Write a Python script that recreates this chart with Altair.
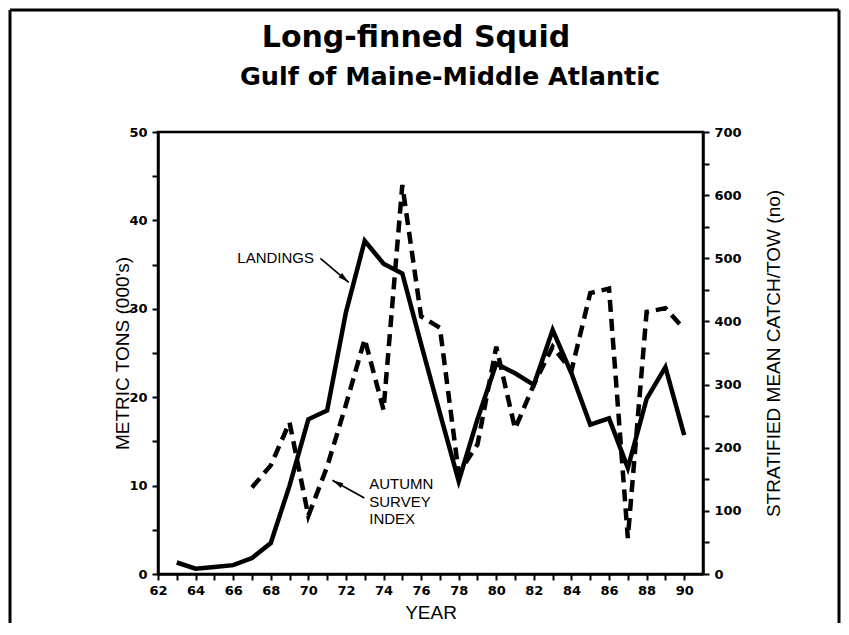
import math
import altair as alt
import pandas as pd

# ---------------- data ----------------
land_years = list(range(63, 91))
landings = [1.3, 0.6, 0.8, 1.0, 1.8, 3.5, 10.0, 17.5, 18.5, 29.6, 37.7, 35.1, 34.0,
            26.0, 18.2, 10.5, 17.5, 23.8, 22.7, 21.4, 27.6, 22.7, 16.9, 17.6, 12.0,
            19.8, 23.4, 15.7]

survey_years = list(range(67, 91))
survey = [137, 172, 240, 92, 170, 268, 372, 260, 616, 408, 390, 160, 205, 360,
          230, 300, 360, 322, 445, 452, 57, 415, 421, 388]

title_text = "Long-finned Squid"
subtitle_text = "Gulf of Maine-Middle Atlantic"
x_title = "YEAR"
left_title = "METRIC TONS (000's)"
right_title = "STRATIFIED MEAN CATCH/TOW (no)"

x_ticks = list(range(62, 91))
left_ticks = list(range(0, 51, 5))
right_ticks = list(range(0, 701, 50))

# annotations (in data units: year, left-axis value)
land_label = ["LANDINGS"]
land_label_x = [70.3]
land_label_y = [35.7]
land_arrow_x = [70.64, 72.15]
land_arrow_y = [35.7, 33.0]

surv_label = ["AUTUMN", "SURVEY", "INDEX"]
surv_label_x = [73.24, 73.24, 73.24]
surv_label_y = [10.2, 8.2, 6.2]
surv_arrow_x = [72.98, 71.28]
surv_arrow_y = [8.6, 10.6]

# ---------------- layout ----------------
W, H = 545, 442
X_DOMAIN = [62, 91]
YL_DOMAIN = [0, 50]
YR_DOMAIN = [0, 700]
PAD = {"left": 150, "top": 124, "right": 138, "bottom": 49}

px_year = W / (X_DOMAIN[1] - X_DOMAIN[0])
px_unit = H / (YL_DOMAIN[1] - YL_DOMAIN[0])


def head_angle(xs, ys):
    dx = (xs[1] - xs[0]) * px_year
    dy = -(ys[1] - ys[0]) * px_unit
    return math.degrees(math.atan2(dx, -dy)) % 360


xscale = alt.Scale(domain=X_DOMAIN, nice=False, zero=False)
ylscale = alt.Scale(domain=YL_DOMAIN, nice=False, zero=False)
yrscale = alt.Scale(domain=YR_DOMAIN, nice=False, zero=False)

x_axis = alt.Axis(values=x_ticks, format="d", labelFlush=False, labelOverlap=False,
                  labelExpr="datum.value % 2 == 0 ? datum.label : ''",
                  labelPadding=4, title=x_title, titleX=W / 2, titleY=44,
                  titleBaseline="alphabetic", titleAlign="center")
yl_axis = alt.Axis(values=left_ticks, format="d", labelFlush=False, labelOverlap=False,
                   labelExpr="datum.value % 10 == 0 ? datum.label : ''",
                   labelPadding=5, title=left_title, titleX=-36, titleY=H / 2,
                   titleAngle=270, titleAlign="center", titleBaseline="middle")
yr_axis = alt.Axis(orient="right", values=right_ticks, format="d", labelFlush=False,
                   labelOverlap=False,
                   labelExpr="datum.value % 100 == 0 ? datum.label : ''",
                   labelPadding=5, title=right_title, titleX=70, titleY=H / 2,
                   titleAngle=270, titleAlign="center", titleBaseline="middle")

X = alt.X("year:Q", scale=xscale, axis=x_axis)
YL = alt.Y("value:Q", scale=ylscale, axis=yl_axis)

land_df = pd.DataFrame({"year": land_years, "value": landings})
surv_df = pd.DataFrame({"year": survey_years, "index": survey})

landings_line = alt.Chart(land_df).mark_line(color="black", strokeWidth=4.5).encode(x=X, y=YL)

land_text = alt.Chart(pd.DataFrame({"year": land_label_x, "value": land_label_y,
                                    "label": land_label})).mark_text(
    font="Liberation Sans", fontSize=15, align="right", baseline="middle", color="black"
).encode(x=X, y=YL, text="label:N")

surv_text = alt.Chart(pd.DataFrame({"year": surv_label_x, "value": surv_label_y,
                                    "label": surv_label})).mark_text(
    font="Liberation Sans", fontSize=15, align="left", baseline="middle", color="black"
).encode(x=X, y=YL, text="label:N")

arrows_df = pd.DataFrame({
    "year": land_arrow_x + surv_arrow_x,
    "value": land_arrow_y + surv_arrow_y,
    "arrow": ["a", "a", "b", "b"],
    "order": [0, 1, 0, 1],
})
shafts = alt.Chart(arrows_df).mark_line(color="black", strokeWidth=1.7).encode(
    x=X, y=YL, detail="arrow:N", order="order:Q")

heads_df = pd.DataFrame({
    "year": [land_arrow_x[1], surv_arrow_x[1]],
    "value": [land_arrow_y[1], surv_arrow_y[1]],
    "angle": [head_angle(land_arrow_x, land_arrow_y), head_angle(surv_arrow_x, surv_arrow_y)],
})
heads = alt.Chart(heads_df).mark_point(
    shape="M0,0L-0.6,2.4L0.6,2.4Z", filled=True, color="black", size=85, opacity=1
).encode(x=X, y=YL, angle=alt.Angle("angle:Q", scale=None))

title_mark = alt.Chart(pd.DataFrame({"t": [title_text]})).mark_text(
    font="DejaVu Sans", fontWeight="bold", fontSize=30, align="center",
    baseline="alphabetic", color="black"
).encode(x=alt.value(258), y=alt.value(-85), text="t:N")

subtitle_mark = alt.Chart(pd.DataFrame({"t": [subtitle_text]})).mark_text(
    font="DejaVu Sans", fontWeight="bold", fontSize=25.5, align="center",
    baseline="alphabetic", color="black"
).encode(x=alt.value(292), y=alt.value(-47), text="t:N")

frame_t = alt.Chart(pd.DataFrame({"k": [0]})).mark_rule(color="black", strokeWidth=3).encode(
    x=alt.value(-148), x2=alt.value(681), y=alt.value(-122), y2=alt.value(-122)
)
frame_l = alt.Chart(pd.DataFrame({"k": [0]})).mark_rule(color="black", strokeWidth=3).encode(
    x=alt.value(-148), x2=alt.value(-148), y=alt.value(-122), y2=alt.value(H + PAD["bottom"])
)
frame_r = alt.Chart(pd.DataFrame({"k": [0]})).mark_rule(color="black", strokeWidth=3).encode(
    x=alt.value(681), x2=alt.value(681), y=alt.value(-122), y2=alt.value(H + PAD["bottom"])
)

left_layer = alt.layer(landings_line, land_text, surv_text, shafts, heads,
                       title_mark, subtitle_mark, frame_t, frame_l, frame_r)

survey_line = alt.Chart(surv_df).mark_line(
    color="black", strokeWidth=4.5, strokeDash=[12, 7]
).encode(
    x=X,
    y=alt.Y("index:Q", scale=yrscale, axis=yr_axis),
)

chart = alt.layer(left_layer, survey_line).resolve_scale(y="independent").properties(
    width=W, height=H,
    autosize=alt.AutoSizeParams(type="none"),
    padding=PAD,
).configure_view(stroke="black", strokeWidth=2.5).configure_axis(
    grid=False, domainColor="black", domainWidth=2.5, tickColor="black", tickWidth=2,
    tickSize=6, labelFont="DejaVu Sans", labelFontWeight="bold", labelFontSize=13,
    labelColor="black", titleFont="Liberation Sans", titleFontWeight="normal",
    titleFontSize=19, titleColor="black"
)

chart.save("out.html", embed_options={"renderer": "svg", "actions": False})
